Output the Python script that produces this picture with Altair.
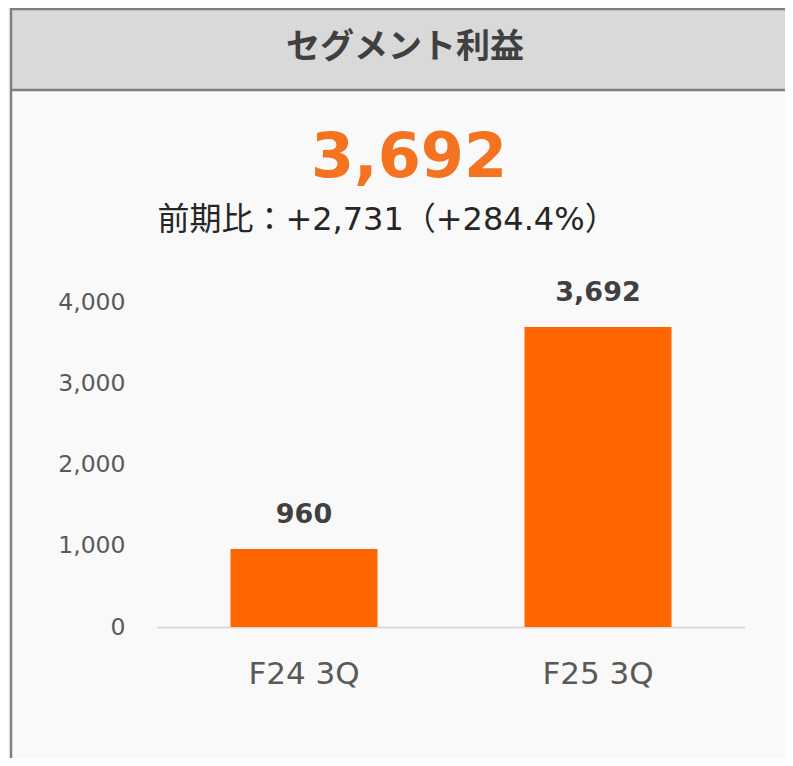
import altair as alt
import pandas as pd

# ---- data ----
categories = ["F24 3Q", "F25 3Q"]
values = [960, 3692]
y_ticks = [0, 1000, 2000, 3000, 4000]
header_title = "セグメント利益"
headline_value = "3,692"
comparison_text = "前期比：+2,731（+284.4%）"

df = pd.DataFrame({"period": categories, "profit": values})
one = pd.DataFrame({"k": [0]})

W, H = 588, 325
LATIN = "DejaVu Sans, Noto Sans CJK JP"
BORDER = "#808080"

x_enc = alt.X(
    "period:N",
    sort=categories,
    scale=alt.Scale(paddingInner=0.5, paddingOuter=0.25),
    axis=alt.Axis(
        title=None, labelAngle=0, labelFont=LATIN, labelFontSize=31,
        labelColor="#595959", labelPadding=56, labelBaseline="alphabetic",
        ticks=False, tickSize=0, domainColor="#d9d9d9", domainWidth=2, grid=False,
    ),
)
y_enc = alt.Y(
    "profit:Q",
    scale=alt.Scale(domain=[0, 4000], nice=False),
    axis=alt.Axis(
        title=None, values=y_ticks, format=",.0f", labelFont=LATIN, labelFontSize=23.5,
        labelColor="#595959", labelPadding=32, ticks=False, tickSize=0,
        domain=False, grid=False,
    ),
)

header_fill = alt.Chart(one).mark_rect(fill="#d9d9d9").encode(
    x=alt.value(-146), x2=alt.value(700), y=alt.value(-293), y2=alt.value(-212)
)
top_line = alt.Chart(one).mark_rule(color=BORDER, strokeWidth=2.5).encode(
    x=alt.value(-147), x2=alt.value(700), y=alt.value(-293)
)
divider_line = alt.Chart(one).mark_rule(color=BORDER, strokeWidth=2.5).encode(
    x=alt.value(-147), x2=alt.value(700), y=alt.value(-212)
)
left_line = alt.Chart(one).mark_rule(color=BORDER, strokeWidth=2.5).encode(
    x=alt.value(-146), y=alt.value(-294), y2=alt.value(600)
)
title_text = alt.Chart(one).mark_text(
    font="Noto Sans CJK JP", fontWeight="bold", fontSize=34, color="#404040",
    align="center", baseline="middle",
).encode(x=alt.value(248), y=alt.value(-254), text=alt.value(header_title))

big_text = alt.Chart(one).mark_text(
    font=LATIN, fontWeight="bold", fontSize=62, color="#F47321",
    align="center", baseline="alphabetic",
).encode(x=alt.value(252), y=alt.value(-125), text=alt.value(headline_value))

sub_text = alt.Chart(one).mark_text(
    font=LATIN, fontSize=32, color="#262626",
    align="center", baseline="alphabetic",
).encode(x=alt.value(230), y=alt.value(-72), text=alt.value(comparison_text))

bars = alt.Chart(df).mark_bar(color="#FF6600").encode(x=x_enc, y=y_enc)
labels = alt.Chart(df).mark_text(
    font=LATIN, fontWeight="bold", fontSize=27, color="#404040",
    baseline="alphabetic", dy=-26,
).encode(x=x_enc, y=y_enc, text=alt.Text("profit:Q", format=","))

chart = alt.layer(
    header_fill, top_line, divider_line, left_line,
    title_text, big_text, sub_text, bars, labels,
).properties(
    width=W, height=H,
    autosize=alt.AutoSizeParams(type="none"),
    padding={"left": 149, "top": 294, "right": 40, "bottom": 131},
    background="#f9f9f9",
).configure_view(stroke="transparent")

chart.save("out.html", embed_options={"renderer": "svg", "actions": False})
